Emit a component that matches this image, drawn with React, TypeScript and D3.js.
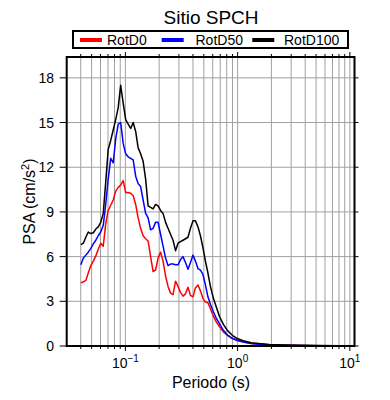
import React from 'react';
import * as d3 from 'd3';

// Periodo (s)
const periods = [
  0.0401, 0.0422, 0.0444, 0.0467, 0.0492, 0.0518, 0.0545, 0.0573, 0.0603, 0.0635,
  0.0668, 0.0703, 0.074, 0.0779, 0.082, 0.0863, 0.0908, 0.0956, 0.1006, 0.1059,
  0.1115, 0.1173, 0.1235, 0.1299, 0.1367, 0.1439, 0.1515, 0.1594, 0.1678, 0.1766,
  0.1858, 0.1956, 0.2058, 0.2166, 0.228, 0.2399, 0.2525, 0.2658, 0.2797, 0.2944,
  0.3098, 0.3261, 0.3432, 0.3612, 0.3801, 0.4, 0.421, 0.4431, 0.4664, 0.4909,
  0.5166, 0.5437, 0.5722, 0.6084, 0.6469, 0.6878, 0.7464, 0.81, 0.8973, 0.9938,
  1.147, 1.323, 1.558, 1.912, 2.598, 3.532, 5.317, 8.005, 10.65,
];

const rotD0 = [
  4.25, 4.3, 4.4, 4.9, 5.4, 5.7, 6.05, 6.5, 6.9, 6.7,
  8.2, 9.1, 9.45, 9.8, 10.4, 10.65, 10.8, 11.1, 10.3, 10.3,
  10.25, 10.1, 9.5, 8.6, 7.9, 7.4, 7.2, 7.05, 6.0, 5.0,
  5.1, 5.9, 6.3, 5.7, 4.7, 4.0, 3.55, 3.45, 4.35, 4.0,
  3.6, 3.35, 3.5, 3.95, 3.4, 3.3, 3.9, 4.1, 3.7, 3.2,
  2.95, 2.9, 2.5, 2.0, 1.6, 1.3, 0.95, 0.72, 0.52, 0.38,
  0.26, 0.17, 0.12, 0.08, 0.05, 0.03, 0.02, 0.012, 0.008,
];

const rotD50 = [
  5.45, 5.9, 6.1, 6.3, 6.55, 6.85, 7.1, 7.4, 7.65, 8.1,
  9.5, 11.2, 12.6, 12.3, 13.9, 14.9, 15.0, 13.6, 12.9, 12.7,
  12.6, 12.5, 11.4, 10.9, 10.7, 9.8, 8.9, 8.6, 7.8, 7.9,
  8.3, 8.3, 7.5, 6.7, 5.9, 5.4, 5.5, 5.5, 5.45, 5.45,
  5.8, 6.0, 5.6, 5.15, 5.6, 6.1, 5.7, 5.2, 5.1, 4.8,
  4.1, 3.3, 2.8, 2.3, 1.85, 1.5, 1.05, 0.75, 0.5, 0.37,
  0.25, 0.17, 0.12, 0.07, 0.05, 0.035, 0.02, 0.015, 0.01,
];

const rotD100 = [
  6.8, 6.9, 7.3, 7.65, 7.55, 7.6, 7.85, 8.0, 8.3, 8.9,
  11.0, 13.2, 13.8, 14.5, 15.2, 16.0, 17.5, 16.3, 15.2, 14.9,
  14.6, 15.0, 14.4, 13.3, 12.9, 12.4, 11.2, 9.4, 9.3, 9.2,
  9.5, 9.4, 9.1, 8.9, 8.3, 7.9, 7.5, 7.1, 6.4, 6.9,
  7.0, 7.1, 7.2, 7.3, 7.9, 8.4, 8.4, 8.0, 7.4, 6.6,
  5.7, 4.9, 4.0, 3.2, 2.6, 2.0, 1.45, 1.05, 0.72, 0.5,
  0.33, 0.22, 0.16, 0.1, 0.07, 0.05, 0.03, 0.02, 0.015,
];

const seriesNames = ['RotD0', 'RotD50', 'RotD100'];
const seriesColors = ['#ff0000', '#0000ff', '#000000'];

const yTicks = [0, 3, 6, 9, 12, 15, 18];
const xMajor = [0.1, 1, 10];
const xMajorExp = ['\u22121', '0', '1'];
const xMinor = [
  0.04, 0.05, 0.06, 0.07, 0.08, 0.09, 0.1, 0.2, 0.3, 0.4, 0.5, 0.6, 0.7, 0.8, 0.9,
  1, 2, 3, 4, 5, 6, 7, 8, 9, 10,
];

const FONT = '"Liberation Sans", Arial, Helvetica, sans-serif';

const App: React.FC = () => {
  const width = 390;
  const height = 400;
  const left = 66.7;
  const right = 354.5;
  const top = 57;
  const bottom = 346;

  const x = d3.scaleLog().domain([0.03, 11]).range([left, right]);
  const y = d3.scaleLinear().domain([0, 19.4]).range([bottom, top]);

  const all = [rotD0, rotD50, rotD100];
  const line = d3
    .line<number>()
    .x((_, i) => x(periods[i]))
    .y((d) => y(d));

  return (
    <svg
      width={width}
      height={height}
      style={{ position: 'absolute', left: 0, top: 0, background: '#fff' }}
      fontFamily={FONT}
    >
      {/* grid */}
      <g stroke="#a0a0a0" strokeWidth={1}>
        {xMinor.map((t) => (
          <line key={'gx' + t} x1={x(t)} x2={x(t)} y1={top} y2={bottom} />
        ))}
        {yTicks.slice(1).map((t) => (
          <line key={'gy' + t} x1={left} x2={right} y1={y(t)} y2={y(t)} />
        ))}
      </g>

      {/* curves */}
      <g fill="none" strokeWidth={1.5} strokeLinejoin="round">
        {all.map((s, i) => (
          <path key={seriesNames[i]} d={line(s) || ''} stroke={seriesColors[i]} />
        ))}
      </g>

      {/* ticks */}
      <g stroke="#000" strokeWidth={1}>
        {xMinor.map((t) => {
          const major = xMajor.includes(t);
          const len = major ? 5 : 3;
          return (
            <g key={'tx' + t}>
              <line x1={x(t)} x2={x(t)} y1={bottom} y2={bottom + len} />
              <line x1={x(t)} x2={x(t)} y1={top} y2={top - len} />
            </g>
          );
        })}
        {yTicks.map((t) => (
          <g key={'ty' + t}>
            <line x1={left} x2={left - 7} y1={y(t)} y2={y(t)} />
            <line x1={right} x2={right + 4} y1={y(t)} y2={y(t)} />
          </g>
        ))}
      </g>

      {/* frame */}
      <rect
        x={left}
        y={top}
        width={right - left}
        height={bottom - top}
        fill="none"
        stroke="#000"
        strokeWidth={2}
      />

      {/* y tick labels */}
      {yTicks.map((t) => (
        <text key={'ly' + t} x={54} y={y(t) + 5} textAnchor="end" fontSize={14} fill="#000">
          {t}
        </text>
      ))}

      {/* x tick labels */}
      {xMajor.map((t, i) => (
        <text key={'lx' + t} x={x(t)} y={368} textAnchor="middle" fontSize={14} fill="#000">
          10
          <tspan dy={-6} fontSize={10}>
            {xMajorExp[i]}
          </tspan>
        </text>
      ))}

      {/* axis titles */}
      <text x={211} y={388} textAnchor="middle" fontSize={16} fill="#000">
        Periodo (s)
      </text>
      <text
        transform={`translate(35,${(top + bottom) / 2}) rotate(-90)`}
        textAnchor="middle"
        fontSize={16}
        fill="#000"
      >
        PSA (cm/s
        <tspan dy={-6} fontSize={11}>
          2
        </tspan>
        <tspan dy={6}>)</tspan>
      </text>

      {/* title */}
      <text x={211} y={24} textAnchor="middle" fontSize={19} fill="#000">
        Sitio SPCH
      </text>

      {/* legend */}
      <rect x={73} y={31} width={275} height={17} fill="#fff" stroke="#000" strokeWidth={2} />
      {seriesNames.map((n, i) => {
        const lx = [80, 161.7, 252.3][i];
        const tx = [107, 195.5, 284][i];
        return (
          <g key={'lg' + n}>
            <line x1={lx} x2={lx + 22} y1={40} y2={40} stroke={seriesColors[i]} strokeWidth={4} />
            <text x={tx} y={45} fontSize={14} fill="#000">
              {n}
            </text>
          </g>
        );
      })}
    </svg>
  );
};

export default App;
